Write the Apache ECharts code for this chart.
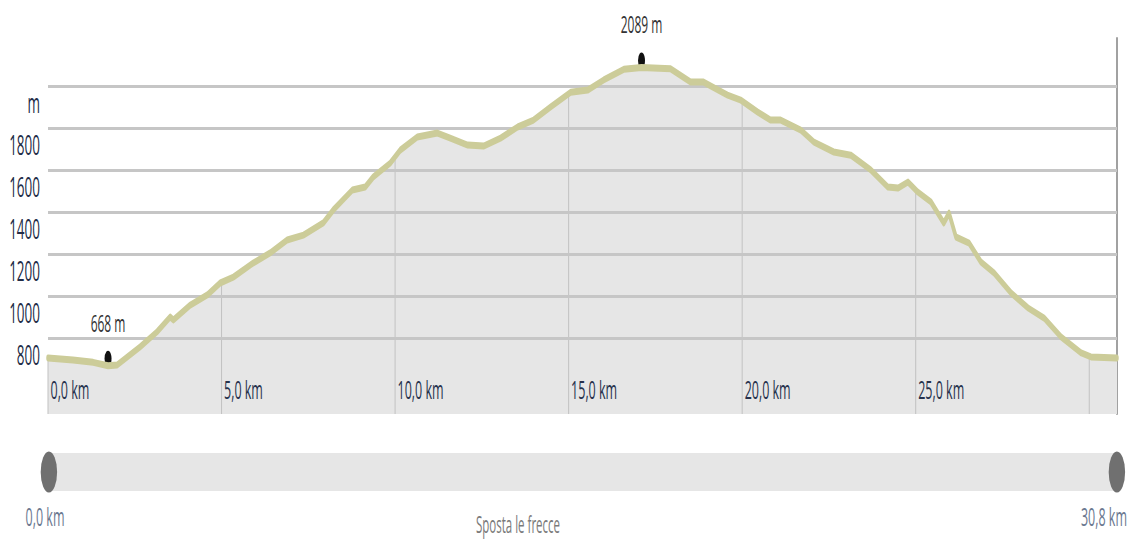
<!DOCTYPE html>
<html><head><meta charset="utf-8">
<script src="https://cdn.jsdelivr.net/npm/echarts@6/dist/echarts.min.js"></script>
<style>
html,body{margin:0;padding:0;overflow:hidden;background:#fff;width:1129px;height:539px}
#wrap{width:1129px;height:539px;overflow:hidden;position:relative}
#chart{width:2258px;height:539px;transform:scaleX(0.5);transform-origin:0 0;position:absolute;left:0;top:0}
</style></head><body><div id="wrap"><div id="chart"></div></div>
<script>
const distanceKm = [0,0.72,1.3,1.73,1.99,2.65,3.14,3.52,3.61,4.10,4.59,4.96,5.34,5.91,6.40,6.89,7.36,7.93,8.22,8.77,9.14,9.37,9.86,10.15,10.64,11.22,11.59,12.09,12.55,13.04,13.53,13.99,14.48,15.06,15.55,16.01,16.59,17.10,17.94,18.52,18.89,19.58,19.96,20.45,20.82,21.11,21.69,22.07,22.64,23.13,23.71,24.20,24.49,24.78,25.06,25.44,25.81,25.96,26.16,26.54,26.88,27.26,27.75,28.24,28.70,29.19,29.77,30.05,30.8];
const elevationM = [705,695,684,668,671,757,829,900,886,957,1005,1062,1090,1157,1205,1267,1290,1348,1410,1505,1519,1567,1633,1695,1757,1776,1752,1719,1714,1752,1805,1838,1900,1971,1981,2029,2080,2089,2082,2019,2019,1957,1933,1876,1838,1838,1790,1733,1686,1671,1600,1519,1514,1543,1495,1448,1348,1395,1281,1252,1162,1110,1014,943,895,805,729,710,705];
const yTickValues = [800,1000,1200,1400,1600,1800,2000];
const yTickLabels = ['800','1000','1200','1400','1600','1800','m'];
const xGridKm = [0,5,10,15,20,25,30];
const xLabelKm = [0,5,10,15,20,25];
const routeLengthKm = 30.8;
const sliderLabels = ['0,0 km','30,8 km'];
const sliderHint = 'Sposta le frecce';

const Y_MIN = 438, Y_MAX = 2229;
const FONT = '"Open Sans", "Noto Sans", sans-serif';

function elevAt(km){
  for(let i=1;i<distanceKm.length;i++){
    if(km<=distanceKm[i]){
      const a=distanceKm[i-1], b=distanceKm[i];
      const t=(km-a)/(b-a);
      return elevationM[i-1]+t*(elevationM[i]-elevationM[i-1]);
    }
  }
  return elevationM[elevationM.length-1];
}
const profile = distanceKm.map((d,i)=>[d, elevationM[i]]);
const vgrid = xGridKm.map(k=>[k, elevAt(k)]);
const fmtKm = v => v.toFixed(1).replace('.', ',') + ' km';

const chart = echarts.init(document.getElementById('chart'), null, {renderer:'svg'});
chart.setOption({
  animation:false,
  backgroundColor:'#fff',
  grid:{left:96, right:24, top:38, bottom:125},
  xAxis:{type:'value', min:0, max:routeLengthKm, interval:5, z:20,
    axisLine:{show:false}, axisTick:{show:false}, splitLine:{show:false},
    axisLabel:{inside:true, margin:24, align:'left', verticalAlign:'middle', padding:[0,0,0,5],
      fontSize:25, fontFamily:FONT, color:'#26324d',
      formatter:v => xLabelKm.includes(v) ? fmtKm(v) : ''}},
  yAxis:[{type:'value', min:Y_MIN, max:Y_MAX, position:'left',
    axisLine:{show:false}, axisTick:{show:false}, splitLine:{show:false},
    axisLabel:{customValues:yTickValues, margin:16, align:'right', verticalAlign:'top', padding:[3,0,0,0],
      fontSize:27, fontFamily:FONT, color:'#222c47',
      formatter:v => { const i=yTickValues.indexOf(v); return i>=0 ? yTickLabels[i] : ''; }}},
   {type:'value', min:Y_MIN, max:Y_MAX, position:'right',
    axisLine:{show:true, lineStyle:{color:'#444', width:2}}, axisTick:{show:false}, splitLine:{show:false}, axisLabel:{show:false}}],
  dataZoom:[{type:'slider', xAxisIndex:0, start:0, end:100, filterMode:'none',
    left:96, right:24, top:453, height:38,
    showDataShadow:false, showDetail:false, brushSelect:false, zoomLock:true,
    backgroundColor:'#e6e6e6', fillerColor:'#e6e6e6', borderColor:'transparent', borderRadius:0,
    handleIcon:'path://M16,0A16,20,0,1,1,16,40A16,20,0,1,1,16,0Z', handleSize:'108%',
    handleStyle:{color:'#707070', borderColor:'#707070', borderWidth:0},
    moveHandleSize:0, moveHandleStyle:{opacity:0},
    emphasis:{handleStyle:{color:'#707070', borderColor:'#707070'}, moveHandleStyle:{opacity:0}}}],
  graphic:[
    {type:'text', x:90, y:517, style:{text:sliderLabels[0], align:'center', verticalAlign:'middle', fill:'#6b7890', font:'25px '+FONT}},
    {type:'text', x:2254, y:517, style:{text:sliderLabels[1], align:'right', verticalAlign:'middle', fill:'#6b7890', font:'25px '+FONT}},
    {type:'text', x:1036, y:524, style:{text:sliderHint, align:'center', verticalAlign:'middle', fill:'#7a7a7a', font:'23px '+FONT}}
  ],
  series:[
    {type:'line', name:'fill', data:profile, showSymbol:false, silent:true, z:1,
      lineStyle:{width:0, opacity:0}, areaStyle:{color:'#e6e6e6', opacity:1},
      markLine:{silent:true, symbol:['none','none'], label:{show:false},
        lineStyle:{color:'#c6c6c6', width:3, type:'solid'},
        data:yTickValues.map(v=>({yAxis:v}))}},
    {type:'custom', name:'vgrid', data:vgrid, z:3, silent:true,
      renderItem:(params, api)=>{
        const top=api.coord([api.value(0), api.value(1)]);
        const bot=api.coord([api.value(0), Y_MIN]);
        return {type:'line', shape:{x1:top[0], y1:top[1], x2:bot[0], y2:bot[1]}, style:{stroke:'#c2c2c2', lineWidth:2}};
      }},
    {type:'line', name:'profile', data:profile, showSymbol:false, z:10,
      lineStyle:{color:'#cccc99', width:7, cap:'round', join:'round'},
      markPoint:{symbol:'circle', symbolSize:[14,16], symbolOffset:[0,-7],
        itemStyle:{color:'#111'},
        label:{show:true, position:'top', distance:16, fontSize:24, fontFamily:FONT, color:'#333',
          formatter:p => p.value + ' m'},
        data:[{type:'min', valueDim:'y'}, {type:'max', valueDim:'y'}]}}
  ]
});
</script></body></html>
